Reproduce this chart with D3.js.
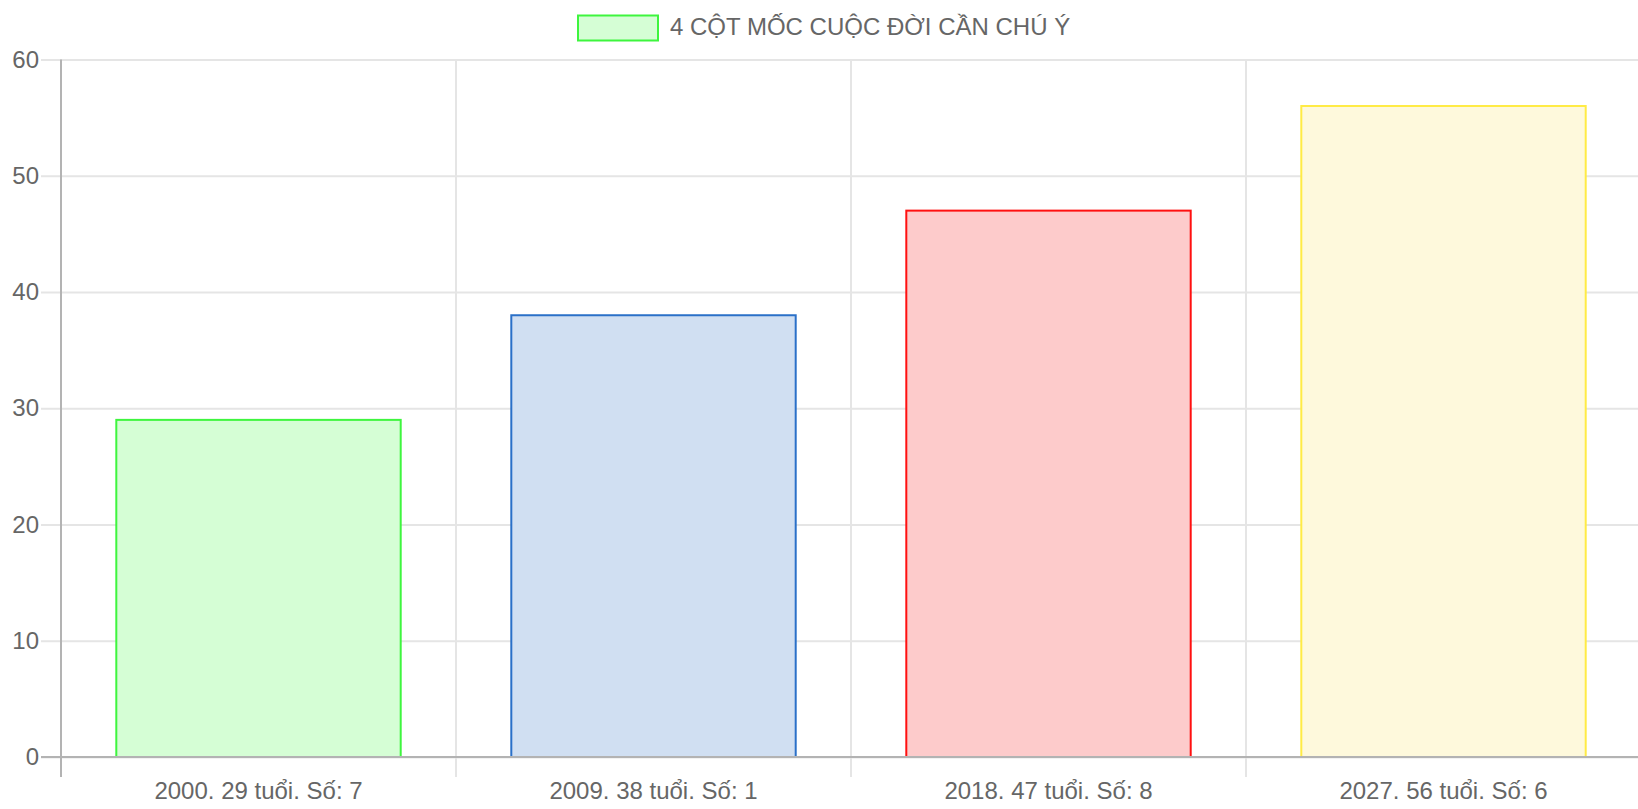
<!DOCTYPE html>
<html>
<head>
<meta charset="utf-8">
<script src="https://cdn.jsdelivr.net/npm/d3@7"></script>
<style>
  html, body { margin: 0; padding: 0; background: #fff; }
  svg { display: block; font-family: "Liberation Sans", Arial, sans-serif; }
</style>
</head>
<body>
<svg id="chart" width="1638" height="809"></svg>
<script>
const labels = ["2000. 29 tuổi. Số: 7", "2009. 38 tuổi. Số: 1", "2018. 47 tuổi. Số: 8", "2027. 56 tuổi. Số: 6"];
const values = [29, 38, 47, 56];
const fills = ["#d5fed5", "#d0dff2", "#fdcbcb", "#fef9dc"];
const strokes = ["#3ef53e", "#2a70c8", "#ff1010", "#ffeb45"];
const yTicks = [0, 10, 20, 30, 40, 50, 60];
const seriesName = "4 CỘT MỐC CUỘC ĐỜI CẦN CHÚ Ý";

const svg = d3.select("#chart");
const width = 1638, height = 809;
const m = { top: 59.5, right: -3, bottom: 52, left: 61 };

const x = d3.scaleBand()
  .domain(labels)
  .range([m.left, width - m.right]);

const y = d3.scaleLinear()
  .domain([0, 60])
  .range([height - m.bottom, m.top]);

const tickLen = 20;
const grid = "#e5e5e5";
const axisCol = "#b3b3b3";

// vertical grid lines (category boundaries)
svg.append("g")
  .selectAll("line")
  .data(labels.slice(1))
  .join("line")
  .attr("x1", d => x(d)).attr("x2", d => x(d))
  .attr("y1", y(60)).attr("y2", y(0) + tickLen)
  .attr("stroke", grid).attr("stroke-width", 2);

// horizontal grid
svg.append("g")
  .attr("transform", `translate(${m.left},0)`)
  .call(d3.axisLeft(y).tickValues(yTicks).tickSize(-(width - m.left)).tickFormat(""))
  .call(g => g.select(".domain").remove())
  .selectAll("line")
  .attr("stroke", grid)
  .attr("stroke-width", 2);

// y tick marks + labels
const yAxis = svg.append("g")
  .attr("transform", `translate(${m.left},0)`)
  .call(d3.axisLeft(y).tickValues(yTicks).tickSize(tickLen).tickPadding(2));
yAxis.select(".domain").remove();
yAxis.selectAll("line").attr("stroke", grid).attr("stroke-width", 2);
yAxis.selectAll("text")
  .attr("fill", "#666")
  .attr("font-size", "24px")
  .attr("font-family", "Liberation Sans, Arial, sans-serif");

// bars
svg.append("g")
  .selectAll("rect")
  .data(values)
  .join("rect")
  .attr("x", (d, i) => x(labels[i]) + x.bandwidth() * 0.14)
  .attr("width", x.bandwidth() * 0.72)
  .attr("y", d => y(d))
  .attr("height", d => y(0) - y(d))
  .attr("fill", (d, i) => fills[i])
  .attr("stroke", (d, i) => strokes[i])
  .attr("stroke-width", 2);

// axis lines
svg.append("line")
  .attr("x1", m.left - tickLen).attr("x2", width)
  .attr("y1", y(0)).attr("y2", y(0))
  .attr("stroke", axisCol).attr("stroke-width", 2);
svg.append("line")
  .attr("x1", m.left).attr("x2", m.left)
  .attr("y1", y(60)).attr("y2", y(0) + tickLen)
  .attr("stroke", axisCol).attr("stroke-width", 2);

// x labels
svg.append("g")
  .selectAll("text")
  .data(labels)
  .join("text")
  .attr("x", d => x(d) + x.bandwidth() / 2)
  .attr("y", y(0) + 42)
  .attr("text-anchor", "middle")
  .attr("fill", "#666")
  .attr("font-size", "24px")
  .text(d => d);

// legend
const legend = svg.append("g");
legend.append("rect")
  .attr("x", 578).attr("y", 15.5)
  .attr("width", 80).attr("height", 25)
  .attr("fill", fills[0])
  .attr("stroke", strokes[0])
  .attr("stroke-width", 2);
legend.append("text")
  .attr("x", 670).attr("y", 35)
  .attr("fill", "#666")
  .attr("font-size", "24px")
  .text(seriesName);
</script>
</body>
</html>
